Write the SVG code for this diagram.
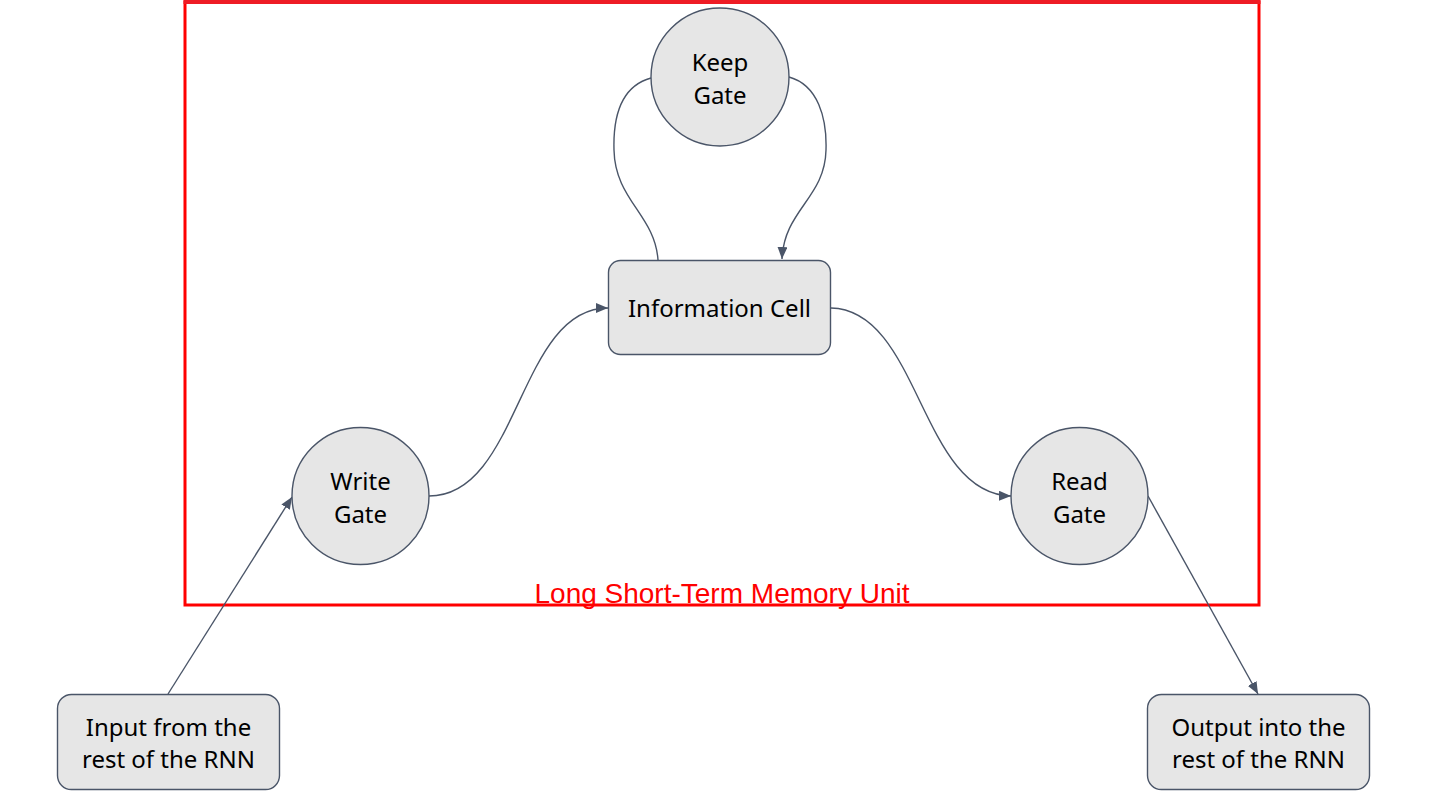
<svg xmlns="http://www.w3.org/2000/svg" width="1439" height="809" viewBox="0 0 1439 809">
<style>
.node{fill:#e6e6e6;stroke:#4a5568;stroke-width:1.4}
.lbl{font-family:"Noto Sans",Lato,sans-serif;font-size:24px;fill:#000;text-anchor:middle}
.edge{fill:none;stroke:#4a5568;stroke-width:1.4}
</style>
<defs>
<marker id="arr" viewBox="0 0 12 10" refX="12" refY="5" markerWidth="12" markerHeight="10" markerUnits="userSpaceOnUse" orient="auto">
<path d="M0,0 L12,5 L0,10 Z" fill="#4a5568"/>
</marker>
</defs>
<rect width="1439" height="809" fill="#fff"/>
<g id="lstm-frame">
<rect x="185" y="2" width="1074" height="603" fill="none" stroke="#ff0000" stroke-width="3"/>
<line x1="183.5" y1="2" x2="1260.5" y2="2" stroke="#ee1c25" stroke-width="4"/>
<text x="722" y="603" font-family="Liberation Sans,Arial,sans-serif" font-size="28" fill="#ff0000" text-anchor="middle">Long Short-Term Memory Unit</text>
</g>
<g id="connectors">
<path class="edge" d="M651,78 C622,86 613,115 614,150 C615,200 655,215 658,260"/>
<path class="edge" marker-end="url(#arr)" d="M789,77 C818,85 827,118 826,150 C825,198 784,210 782,259"/>
<path class="edge" marker-end="url(#arr)" d="M429,496 C520,496 518,308 608,308"/>
<path class="edge" marker-end="url(#arr)" d="M831,308 C920,310 920,494 1011,496"/>
<path class="edge" marker-end="url(#arr)" d="M168,694 L292,497"/>
<path class="edge" marker-end="url(#arr)" d="M1148,496 L1258,694"/>
</g>
<g id="keep-gate">
<circle class="node" cx="720" cy="77" r="69"/>
<text class="lbl" x="720" y="71">Keep</text>
<text class="lbl" x="720" y="104">Gate</text>
</g>
<g id="information-cell">
<rect class="node" x="608.5" y="260.5" width="222" height="94" rx="12"/>
<text class="lbl" x="719.5" y="317">Information Cell</text>
</g>
<g id="write-gate">
<circle class="node" cx="360.5" cy="496" r="68.5"/>
<text class="lbl" x="360.5" y="490">Write</text>
<text class="lbl" x="360.5" y="523">Gate</text>
</g>
<g id="read-gate">
<circle class="node" cx="1079.5" cy="496" r="68.5"/>
<text class="lbl" x="1079.5" y="490">Read</text>
<text class="lbl" x="1079.5" y="523">Gate</text>
</g>
<g id="input">
<rect class="node" x="57.5" y="694.5" width="222" height="95" rx="14"/>
<text class="lbl" x="168.5" y="736">Input from the</text>
<text class="lbl" x="168.5" y="768">rest of the RNN</text>
</g>
<g id="output">
<rect class="node" x="1147.5" y="694.5" width="222" height="95" rx="14"/>
<text class="lbl" x="1258.5" y="736">Output into the</text>
<text class="lbl" x="1258.5" y="768">rest of the RNN</text>
</g>
</svg>
